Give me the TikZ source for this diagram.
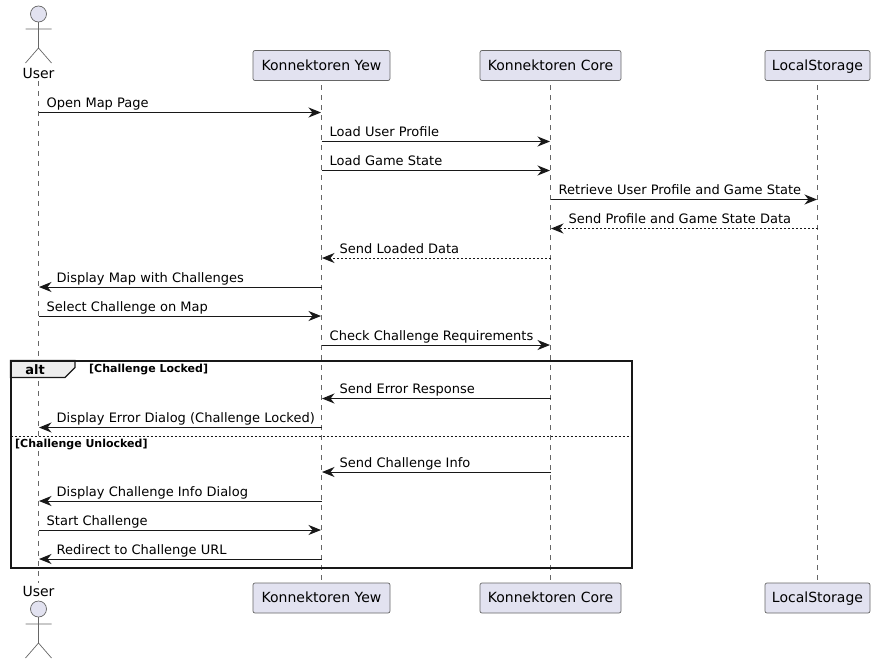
\documentclass[tikz,border=0pt]{standalone}
\usepackage{fontspec}
\setmainfont{DejaVu Sans}
\usetikzlibrary{arrows.meta,calc}
\definecolor{pfill}{HTML}{E2E2F0}
\definecolor{pline}{HTML}{181818}
\definecolor{sline}{HTML}{666666}
\tikzset{
  partbox/.style={draw=sline,line width=0.7pt,fill=pfill,rounded corners=2pt,minimum height=30pt,inner sep=0pt,text height=10.5pt,text depth=1pt,font=\fontsize{14}{16}\selectfont,text=black},
  actorlabel/.style={inner sep=0pt,font=\fontsize{14}{16}\selectfont,text=black},
  actorline/.style={draw=sline,line width=0.7pt},
  lifeline/.style={draw=sline,line width=0.7pt,dash pattern=on 5pt off 5pt},
  msgline/.style={draw=pline,line width=1pt,-{Stealth[length=12.5pt,width=10pt,inset=4pt,fill=pline]}},
  retline/.style={msgline,dash pattern=on 2pt off 2pt},
  msgtext/.style={inner sep=0pt,anchor=base west,font=\fontsize{13}{15}\selectfont,text=black},
  grouptext/.style={inner sep=0pt,font=\bfseries\fontsize{11}{13}\selectfont,text=black},
  frameline/.style={draw=pline,line width=2pt},
}
\newcommand{\rmsg}[5][msgline]{%
  \draw[#1] (#2 |- 0,#4) -- ([xshift=-0.5pt]#3 |- 0,#4);
  \node[msgtext] at ($(#2 |- 0,#4)+(8,-5)$) {#5};}
\newcommand{\lmsg}[5][msgline]{%
  \draw[#1] (#2 |- 0,#4) -- ([xshift=0.5pt]#3 |- 0,#4);
  \node[msgtext] at ($(#3 |- 0,#4)+(18,-5)$) {#5};}
\newcommand{\stick}[2]{%
  \draw[actorline,fill=pfill] (#1,#2) circle (8);
  \draw[actorline] (#1,#2+8) -- (#1,#2+34) (#1-13,#2+15) -- (#1+13,#2+15)
    (#1-13,#2+49) -- (#1,#2+34) -- (#1+13,#2+49);}
\begin{document}
\begin{tikzpicture}[x=1pt,y=-1pt]
\useasboundingbox (0,0) rectangle (875,664);
\node[actorlabel] (utop) at (38.5,73) {User};
\node[actorlabel] (ubot) at (38.5,591) {User};
\coordinate (ustart) at (38.5,81);
\coordinate (uend) at (38.5,583);
\coordinate (ystart) at (321.5,65);
\coordinate (yend) at (321.5,598);
\coordinate (cstart) at (550.5,65);
\coordinate (cend) at (550.5,598);
\coordinate (lstart) at (817.5,65);
\coordinate (lend) at (817.5,598);
% lifelines
\draw[lifeline] (ustart) -- (uend);
\draw[lifeline] (ystart) -- (yend);
\draw[lifeline] (cstart) -- (cend);
\draw[lifeline] (lstart) -- (lend);
% heads
\node[partbox,minimum width=137pt] (ytop) at (321.5,65.5) {Konnektoren Yew};
\node[partbox,minimum width=141pt] (ctop) at (550.5,65.5) {Konnektoren Core};
\node[partbox,minimum width=105pt] (ltop) at (817.5,65.5) {LocalStorage};
\node[partbox,minimum width=137pt] (ybot) at (321.5,598) {Konnektoren Yew};
\node[partbox,minimum width=141pt] (cbot) at (550.5,598) {Konnektoren Core};
\node[partbox,minimum width=105pt] (lbot) at (817.5,598) {LocalStorage};
\stick{38.5}{14}
\stick{38.5}{609}
% messages
\rmsg{ustart}{ytop}{112.5}{Open Map Page}
\rmsg{ytop}{ctop}{141.5}{Load User Profile}
\rmsg{ytop}{ctop}{170.5}{Load Game State}
\rmsg{ctop}{ltop}{199.5}{Retrieve User Profile and Game State}
\lmsg[retline]{ltop}{ctop}{228.5}{Send Profile and Game State Data}
\lmsg[retline]{ctop}{ytop}{258}{Send Loaded Data}
\lmsg{ytop}{ustart}{287}{Display Map with Challenges}
\rmsg{ustart}{ytop}{316}{Select Challenge on Map}
\rmsg{ytop}{ctop}{345}{Check Challenge Requirements}
\lmsg{ctop}{ytop}{398.5}{Send Error Response}
\lmsg{ytop}{ustart}{427.5}{Display Error Dialog (Challenge Locked)}
\lmsg{ctop}{ytop}{472}{Send Challenge Info}
\lmsg{ytop}{ustart}{501}{Display Challenge Info Dialog}
\rmsg{ustart}{ytop}{530}{Start Challenge}
\lmsg{ytop}{ustart}{559}{Redirect to Challenge URL}
% alt frame
\draw[draw=pline,line width=1.2pt,fill=black!7] (10.5,360.5) -- (75,360.5) -- (75,367.5) -- (65,377.5) -- (10.5,377.5) -- cycle;
\draw[frameline] (10.5,360.5) rectangle (632,567.5);
\draw[draw=pline,line width=0.8pt,dash pattern=on 2pt off 2pt] (10.5,436) -- (632,436);
\node[inner sep=0pt,font=\bfseries\fontsize{13}{15}\selectfont,text=black] (alttag) at (35,369.5) {alt};
\node[grouptext,anchor=west] (g1) at (89,370) {[Challenge Locked]};
\node[grouptext,anchor=west] (g2) at (15,444.5) {[Challenge Unlocked]};
\end{tikzpicture}
\end{document}
